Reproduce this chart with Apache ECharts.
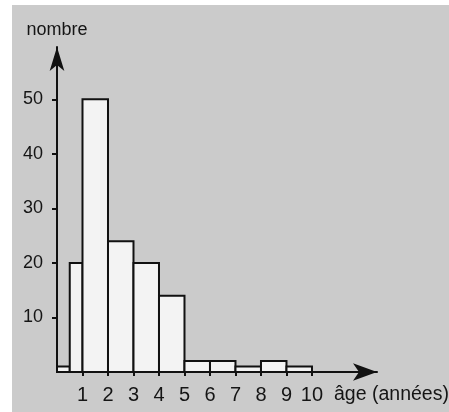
<!DOCTYPE html>
<html>
<head>
<meta charset="utf-8">
<script src="https://cdn.jsdelivr.net/npm/echarts@6/dist/echarts.min.js"></script>
<style>
  html, body { margin: 0; padding: 0; background: #ffffff; }
  #wrap { position: relative; width: 449px; height: 412px; overflow: hidden; background: #ffffff; }
  #paper { position: absolute; left: 12px; top: 5px; right: 0; bottom: 0; background: #cbcbcb; }
  #main { position: absolute; left: 0; top: 0; width: 449px; height: 412px; }
</style>
</head>
<body>
<div id="wrap">
  <div id="paper"></div>
  <div id="main"></div>
</div>
<script>
// Histogram data: age classes (years) and counts
var binStarts = [0, 0.5, 1, 2, 3, 4, 5, 6, 7, 8, 9];
var binEnds   = [0.5, 1, 2, 3, 4, 5, 6, 7, 8, 9, 10];
var counts    = [1, 20, 50, 24, 20, 14, 2, 2, 1, 2, 1];
var xTickValues = [1, 2, 3, 4, 5, 6, 7, 8, 9, 10];
var yTickValues = [10, 20, 30, 40, 50];
var xName = 'âge (années)';
var yName = 'nombre';

var data = binStarts.map(function (s, i) { return [s, binEnds[i], counts[i]]; });

var font = "'Liberation Sans', Arial, sans-serif";

var chart = echarts.init(document.getElementById('main'), null, { renderer: 'canvas' });
chart.setOption({
  backgroundColor: 'transparent',
  animation: false,
  grid: { left: 57, right: 72, top: 47, bottom: 40, containLabel: false, outerBoundsMode: 'none' },
  xAxis: {
    type: 'value',
    min: 0,
    max: 12.55,
    interval: 1,
    name: xName,
    nameLocation: 'end',
    nameGap: -43,
    nameMoveOverlap: false,
    nameTextStyle: {
      fontFamily: font, fontSize: 19.5, color: '#151515',
      align: 'left', verticalAlign: 'top', padding: [13, 0, 0, 0]
    },
    axisLine: {
      show: true, onZero: false,
      symbol: ['none', 'arrow'], symbolSize: [13, 24],
      lineStyle: { color: '#111', width: 2 }
    },
    axisTick: { show: true, customValues: xTickValues, length: 4, lineStyle: { color: '#111', width: 2 } },
    axisLabel: {
      customValues: xTickValues, margin: 13,
      fontFamily: font, fontSize: 20, color: '#151515'
    },
    splitLine: { show: false }
  },
  yAxis: {
    type: 'value',
    min: 0,
    max: 59.6,
    interval: 10,
    name: yName,
    nameLocation: 'end',
    nameGap: 17,
    nameTextStyle: {
      fontFamily: font, fontSize: 18, color: '#151515',
      align: 'center', verticalAlign: 'middle'
    },
    axisLine: {
      show: true, onZero: false,
      symbol: ['none', 'arrow'], symbolSize: [11, 24],
      lineStyle: { color: '#111', width: 2 }
    },
    axisTick: { show: true, customValues: yTickValues, length: 5, lineStyle: { color: '#111', width: 2 } },
    axisLabel: {
      customValues: yTickValues, margin: 14,
      fontFamily: font, fontSize: 18, color: '#151515'
    },
    splitLine: { show: false }
  },
  series: [{
    type: 'custom',
    data: data,
    encode: { x: [0, 1], y: 2 },
    renderItem: function (params, api) {
      var p0 = api.coord([api.value(0), api.value(2)]);
      var p1 = api.coord([api.value(1), 0]);
      return {
        type: 'rect',
        shape: { x: p0[0], y: p0[1], width: p1[0] - p0[0], height: p1[1] - p0[1] },
        style: { fill: '#f3f3f3', stroke: '#111', lineWidth: 2 }
      };
    }
  }]
});
</script>
</body>
</html>
